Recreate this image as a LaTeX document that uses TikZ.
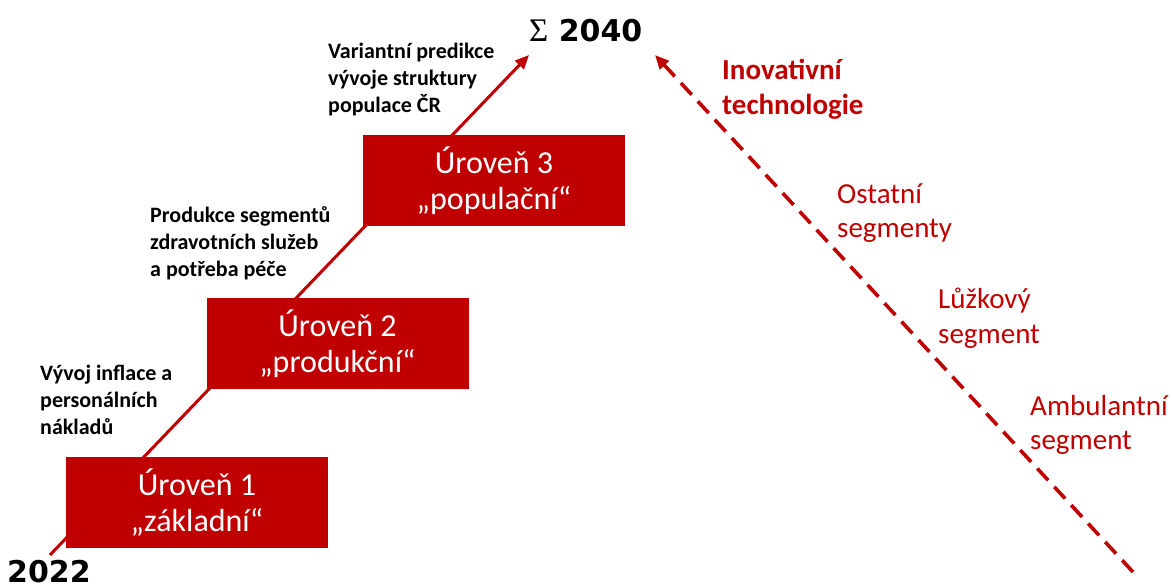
\documentclass[tikz,border=0pt]{standalone}
\usepackage{fontspec}
\setmainfont{Carlito}
\newfontfamily\heavyfont{DejaVu Sans}
\newfontfamily\sigmafont{Liberation Serif}
\usetikzlibrary{arrows.meta}
\definecolor{dred}{HTML}{C00000}
\begin{document}
\begin{tikzpicture}[x=1pt,y=-1pt,
  level/.style={fill=dred,text=white,minimum width=262pt,minimum height=91pt,inner sep=0pt,align=center,font=\fontsize{32}{36}\selectfont},
  blabel/.style={anchor=north west,inner sep=0pt,align=left,font=\bfseries\fontsize{22}{27}\selectfont},
  rlabel/.style={anchor=north west,inner sep=0pt,align=left,text=dred,font=\fontsize{29}{34.5}\selectfont},
  year/.style={inner sep=0pt,font=\heavyfont\bfseries\fontsize{30}{34}\selectfont},
  arr/.style={draw=dred,-{Triangle[length=14pt,width=12pt]}}]
\useasboundingbox (0,0) rectangle (1172,585);
\coordinate (start) at (50,555);
\coordinate (tipA) at (529,55);
\coordinate (dstart) at (1133,572);
\coordinate (tipB) at (655,55);
\draw[arr,line width=3pt] (start) -- (tipA);
\draw[arr,line width=3.6pt,dash pattern=on 16pt off 9pt] (dstart) -- (tipB);
\node[level] (l1) at (197,502.5) {Úroveň 1\\„základní“};
\node[level] (l2) at (337.5,343.5) {Úroveň 2\\„produkční“};
\node[level] (l3) at (494,180.5) {Úroveň 3\\„populační“};
\node[year,anchor=base west] (y22) at (7,582) {2022};
\node[year,anchor=base west] (y40) at (529,42) {{\sigmafont\mdseries\fontsize{33}{34}\selectfont Σ} 2040};
\node[blabel] (t1) at (40,365) {Vývoj inflace a\\personálních\\nákladů};
\node[blabel] (t2) at (150,206) {Produkce segmentů\\zdravotních služeb\\a potřeba péče};
\node[blabel] (t3) at (328,43) {Variantní predikce\\vývoje struktury\\populace ČR};
\node[rlabel,font=\bfseries\fontsize{29}{34.5}\selectfont] (r1) at (722,59) {Inovativní\\technologie};
\node[rlabel] (r2) at (837,183) {Ostatní\\segmenty};
\node[rlabel] (r3) at (938,288) {Lůžkový\\segment};
\node[rlabel] (r4) at (1030,395) {Ambulantní\\segment};
\end{tikzpicture}
\end{document}
